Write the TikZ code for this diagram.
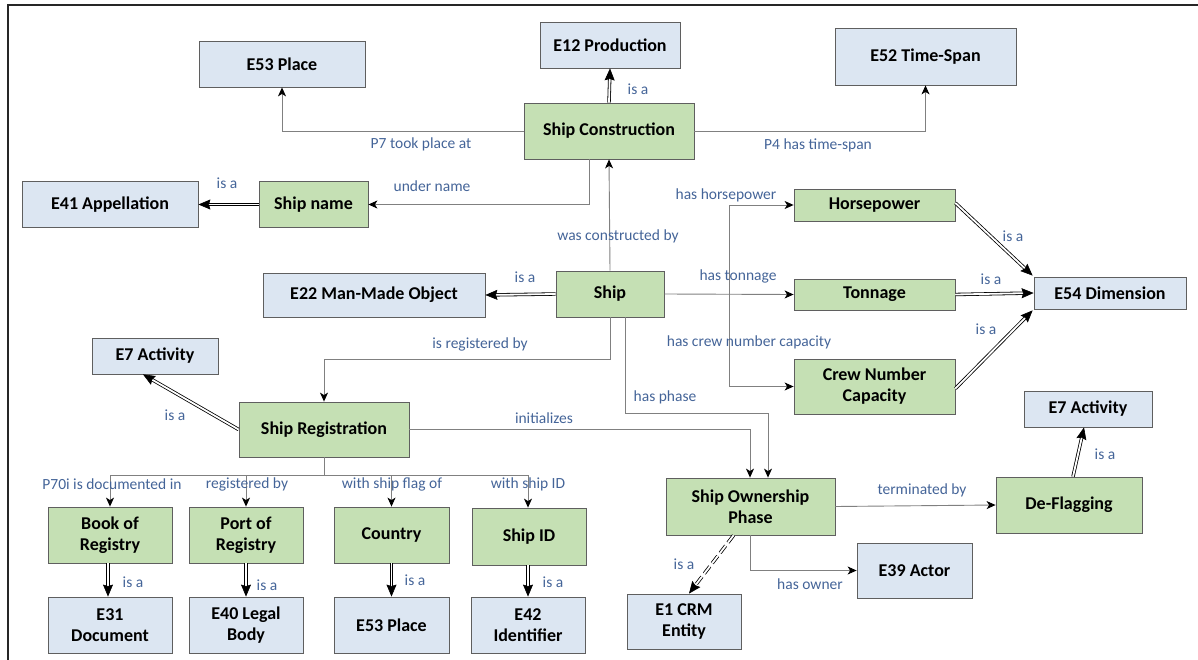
\documentclass[tikz,border=0pt]{standalone}
\usepackage{fontspec}
\setmainfont{Carlito}
\usetikzlibrary{arrows.meta,calc}
\definecolor{entblue}{HTML}{DCE6F2}
\definecolor{clsgreen}{HTML}{C5E0B4}
\definecolor{boxline}{HTML}{5F5F5F}
\definecolor{relgray}{HTML}{808080}
\definecolor{lblblue}{RGB}{68,100,152}
\newcommand{\nodefont}{\fontsize{18}{21}\selectfont\bfseries}
\newcommand{\lblfont}{\fontsize{15.5}{18}\selectfont}
\tikzset{
  box/.style={draw=boxline, line width=0.8pt, font=\nodefont, align=center, inner sep=1pt, text=black},
  ent/.style={box, fill=entblue},
  cls/.style={box, fill=clsgreen},
  rel/.style={draw=relgray, line width=0.9pt, -{Stealth[length=9pt,width=8pt,inset=2.5pt,color=black]}},
  isaline/.style={draw=black, double=white, double distance=1.8pt, line width=0.8pt, shorten >=6pt},
  isatip/.style={draw=white, line width=0.6pt, -{Stealth[length=12pt,width=10pt,inset=1.5pt,color=black]}},
  lbl/.style={font=\lblfont, text=lblblue, inner sep=0pt},
}
\newcommand{\isaedge}[3][]{\draw[isaline,#1] #2 -- #3; \draw[isatip] #2 -- #3;}
\begin{document}
\begin{tikzpicture}[x=1pt,y=-1pt]
\useasboundingbox (0,0) rectangle (1198,660);
\draw[line width=1.3pt, black!85] (8,660) -- (8,5) -- (1198,5);

% nodes
\node[ent, minimum width=166pt, minimum height=46pt] (e53a) at (282,64) {E53 Place};
\node[ent, minimum width=140pt, minimum height=46pt] (e12) at (610,45) {E12 Production};
\node[ent, minimum width=181pt, minimum height=57pt] (e52) at (925.5,56.5) {E52 Time-Span};
\node[cls, minimum width=170pt, minimum height=56pt] (sc) at (609,131) {Ship Construction};
\node[cls, minimum width=109pt, minimum height=46pt] (shipname) at (313.5,204.5) {Ship name};
\node[ent, minimum width=176pt, minimum height=46pt] (e41) at (110,204.5) {E41 Appellation};
\node[cls, minimum width=108pt, minimum height=46pt] (ship) at (610,294) {Ship};
\node[ent, minimum width=222pt, minimum height=44pt] (e22) at (374,295) {E22 Man-Made Object};
\node[cls, minimum width=161pt, minimum height=32pt] (hp) at (874.5,205) {Horsepower};
\node[cls, minimum width=161pt, minimum height=31pt] (ton) at (874.5,294.5) {Tonnage};
\node[cls, minimum width=161pt, minimum height=55pt] (crew) at (874.5,386.5) {Crew Number\\Capacity};
\node[ent, minimum width=152pt, minimum height=32pt] (e54) at (1110,293) {E54 Dimension};
\node[ent, minimum width=126pt, minimum height=36pt] (e7a) at (155,356) {E7 Activity};
\node[cls, minimum width=170pt, minimum height=55pt] (sr) at (324,429.5) {Ship Registration};
\node[cls, minimum width=169pt, minimum height=57pt] (sop) at (750.5,506.5) {Ship Ownership\\Phase};
\node[cls, minimum width=124pt, minimum height=56pt] (book) at (110,535) {Book of\\Registry};
\node[cls, minimum width=114pt, minimum height=56pt] (port) at (246,535) {Port of\\Registry};
\node[cls, minimum width=115pt, minimum height=56pt] (country) at (391.5,535) {Country};
\node[cls, minimum width=114pt, minimum height=57pt] (shipid) at (529,536.5) {Ship ID};
\node[ent, minimum width=124pt, minimum height=56pt] (e31) at (110,625) {E31\\Document};
\node[ent, minimum width=114pt, minimum height=56pt] (e40) at (246,625) {E40 Legal\\Body};
\node[ent, minimum width=115pt, minimum height=56pt] (e53b) at (391.5,625) {E53 Place};
\node[ent, minimum width=114pt, minimum height=56pt] (e42) at (528,625) {E42\\Identifier};
\node[ent, minimum width=114pt, minimum height=55pt] (e1) at (684,621.5) {E1 CRM\\Entity};
\node[ent, minimum width=115pt, minimum height=55pt] (e39) at (914.5,570.5) {E39 Actor};
\node[cls, minimum width=146pt, minimum height=56pt] (defl) at (1069,505) {De-Flagging};
\node[ent, minimum width=128pt, minimum height=36pt] (e7b) at (1088,409) {E7 Activity};

% coordinates
\coordinate (br) at (729,294);
\coordinate (reg) at (610,359);
\coordinate (tree) at (324,475);

% relations
\draw[rel] (sc.west) -| (e53a.south);
\draw[rel] (sc.east) -| (e52.south);
\isaedge{(sc.north)}{(e12.south)}
\draw[rel] ([xshift=-20pt]sc.south) |- (shipname.east);
\isaedge{(shipname.west)}{(e41.east)}
\draw[rel] (ship.north) -- (sc.south);
\isaedge{(ship.west)}{(e22.east)}
\draw[rel] (ship.east) -- (ton.west);
\draw[rel] (br) |- (hp.west);
\draw[rel] (br) |- (crew.west);
\isaedge{([yshift=2pt]hp.east)}{([xshift=-1pt,yshift=1pt]e54.north west)}
\isaedge{(ton.east)}{(e54.west)}
\isaedge{([yshift=-2pt]crew.east)}{([xshift=-1pt,yshift=-1pt]e54.south west)}
\draw[rel] (ship.south) -- (reg) -| (sr.north);
\isaedge{(sr.west)}{([xshift=-12pt]e7a.south)}
\draw[rel] ([xshift=15pt]ship.south) -- ++(0,96) -| ([xshift=17.5pt]sop.north);
\draw[rel] (sr.east) -| ([xshift=-0.5pt]sop.north);
\draw[rel] (sr.south) -- (tree) -| (book.north);
\draw[rel] (tree) -| (port.north);
\draw[rel] (tree) -| (country.north);
\draw[rel] (tree) -| ([xshift=-1pt]shipid.north);
\isaedge{([xshift=-2pt]book.south)}{([xshift=-2pt]e31.north)}
\isaedge{(port.south)}{(e40.north)}
\isaedge{(country.south)}{(e53b.north)}
\isaedge{([xshift=-1pt]shipid.south)}{(e42.north)}
\isaedge[dash pattern=on 9pt off 4pt]{([xshift=-17pt]sop.south)}{([xshift=5pt]e1.north)}
\draw[rel] (sop.south) |- (e39.west);
\draw[rel] (sop.east) -- (defl.west);
\isaedge{([xshift=4pt]defl.north)}{([xshift=-4pt]e7b.south)}

% labels
\node[lbl] (l1) at (421,144) {P7 took place at};
\node[lbl] (l2) at (818,145) {P4 has time-span};
\node[lbl] (l3) at (638,89) {is a};
\node[lbl] (l4) at (432,186) {under name};
\node[lbl] (l5) at (227,183) {is a};
\node[lbl] (l6) at (618,236) {was constructed by};
\node[lbl] (l7) at (525,277) {is a};
\node[lbl] (l8) at (738,276) {has tonnage};
\node[lbl] (l9) at (726,195) {has horsepower};
\node[lbl] (l10) at (749,342) {has crew number capacity};
\node[lbl] (l11) at (1013,236) {is a};
\node[lbl] (l12) at (991,279) {is a};
\node[lbl] (l13) at (986,329) {is a};
\node[lbl] (l14) at (480,344) {is registered by};
\node[lbl] (l15) at (175,415) {is a};
\node[lbl] (l16) at (665,397) {has phase};
\node[lbl] (l17) at (544,418) {initializes};
\node[lbl] (l18) at (112,484) {P70i is documented in};
\node[lbl] (l19) at (247,484) {registered by};
\node[lbl] (l20) at (392,484) {with ship flag of};
\node[lbl] (l21) at (528,484) {with ship ID};
\node[lbl] (l22) at (133,582) {is a};
\node[lbl] (l23) at (267,585) {is a};
\node[lbl] (l24) at (415,580) {is a};
\node[lbl] (l25) at (553,582) {is a};
\node[lbl] (l26) at (684,564) {is a};
\node[lbl] (l27) at (810,584) {has owner};
\node[lbl] (l28) at (922,490) {terminated by};
\node[lbl] (l29) at (1105,454) {is a};
\end{tikzpicture}
\end{document}
